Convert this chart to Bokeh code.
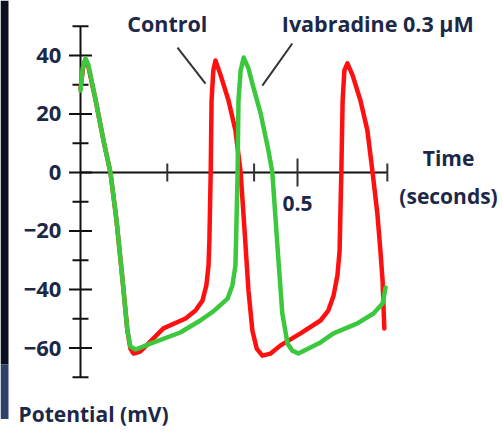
from bokeh.plotting import figure
from bokeh.embed import file_html
from bokeh.resources import INLINE
from bokeh.core.properties import value

# ---- data (time in s, potential in mV) ----
control_t = [0.000, 0.007, 0.0115, 0.018, 0.035, 0.053, 0.069, 0.083, 0.097, 0.108, 0.115, 0.122,
             0.138, 0.191, 0.242, 0.265, 0.281, 0.290, 0.295, 0.297, 0.300, 0.302, 0.306, 0.311,
             0.323, 0.341, 0.357, 0.369, 0.378, 0.387, 0.396, 0.406, 0.419, 0.438, 0.461, 0.507,
             0.553, 0.571, 0.583, 0.592, 0.597, 0.599, 0.601, 0.604, 0.608, 0.615, 0.627, 0.645,
             0.661, 0.673, 0.684, 0.691, 0.696, 0.700]
control_v = [28.7, 36.9, 38.6, 36.2, 24.6, 10.9, 0.0, -16.4, -36.9, -54.0, -60.2, -61.9,
             -61.2, -53.3, -49.9, -47.2, -43.8, -38.6, -31.8, -23.2, 0.0, 24.6, 34.9, 38.3,
             33.2, 24.6, 14.4, 0.0, -19.8, -40.3, -54.0, -60.2, -62.6, -61.9, -59.1, -55.0,
             -50.6, -47.2, -42.1, -35.2, -26.7, -13.0, 0.0, 24.6, 34.9, 37.3, 33.2, 24.6,
             14.4, 0.0, -14.0, -26.7, -36.9, -53.3]

ivab_t = [0.000, 0.005, 0.0115, 0.018, 0.035, 0.053, 0.069, 0.083, 0.097, 0.108, 0.115, 0.127,
          0.161, 0.230, 0.276, 0.306, 0.339, 0.350, 0.357, 0.359, 0.362, 0.364, 0.369, 0.376,
          0.387, 0.396, 0.415, 0.433, 0.442, 0.454, 0.465, 0.477, 0.488, 0.502, 0.553, 0.583,
          0.638, 0.675, 0.696, 0.703]
ivab_v = [28.0, 35.6, 39.0, 36.9, 24.6, 10.9, 0.0, -16.4, -36.9, -54.0, -59.5, -60.5,
          -58.5, -54.7, -50.6, -47.5, -43.1, -38.6, -31.8, -19.8, 0.0, 24.6, 34.9, 39.3,
          35.6, 30.4, 20.2, 7.5, 0.0, -25.6, -48.2, -58.5, -60.9, -61.9, -58.1, -55.0,
          -51.6, -48.2, -44.8, -39.3]

y_major = [-60, -40, -20, 0, 20, 40]
y_labels = ["\u221260", "\u221240", "\u221220", "0", "20", "40"]
y_minor = [-70, -50, -30, -10, 10, 30, 50]
x_ticks = [0.2, 0.4, 0.5, 0.707]
x_tick_half = [3.1, 3.1, 4.8, 3.1]
x_label_value = [0.5]
x_label_text = ["0.5"]
y_axis_span = (-70, 50)
x_axis_span = (0.0, 0.707)

series_names = ["Control", "Ivabradine 0.3 \u00b5M"]

TXT = "#1c2848"
FONT = value("Open Sans")
X0, X1 = -0.18433, 0.97235
Y0, Y1 = -89.57, 58.80

p = figure(width=502, height=434, x_range=(X0, X1), y_range=(Y0, Y1),
           output_backend="svg", toolbar_location=None, min_border=0,
           x_axis_location=None, y_axis_location=None)
p.grid.visible = False
p.outline_line_color = None
p.background_fill_color = "white"

# dark edge strip at the left border (as in the source screenshot)
edge = 8 / 434
p.quad(left=[X0, X0], right=[X0 + edge, X0 + edge], bottom=[-65.6, -84.3], top=[Y1, -65.6],
       fill_color=["#0b1020", "#2e4168"], line_color=None)

# axes
p.segment(x0=[0], y0=[y_axis_span[0]], x1=[0], y1=[y_axis_span[1]], line_color="#111111", line_width=2)
p.segment(x0=[x_axis_span[0]], y0=[0], x1=[x_axis_span[1]], y1=[0], line_color="#111111", line_width=2)
maj_dx = 11.5 / 434
min_dx = 8 / 434
p.segment(x0=[-maj_dx] * len(y_major), y0=y_major, x1=[maj_dx] * len(y_major), y1=y_major,
          line_color="#111111", line_width=2)
p.segment(x0=[-min_dx] * len(y_minor), y0=y_minor, x1=[min_dx] * len(y_minor), y1=y_minor,
          line_color="#111111", line_width=2)
p.segment(x0=x_ticks, y0=[-h for h in x_tick_half], x1=x_ticks, y1=x_tick_half,
          line_color="#333333", line_width=2)

# tick labels
p.text(x=[-0.044] * len(y_major), y=y_major, text=y_labels, text_align="right",
       text_baseline="middle", text_font=FONT, text_font_style="bold",
       text_font_size="22px", text_color=TXT)
p.text(x=x_label_value, y=[-10.6], text=x_label_text, text_align="center",
       text_baseline="alphabetic", text_font=FONT, text_font_style="bold",
       text_font_size="21px", text_color=TXT)
p.text(x=[0.848, 0.848], y=[4.8, -8.2], text=["Time", "(seconds)"], text_align="center",
       text_baseline="alphabetic", text_font=FONT, text_font_style="bold",
       text_font_size="21px", text_color=TXT)
p.text(x=[-0.1429], y=[-82.4], text=["Potential (mV)"], text_align="left",
       text_baseline="alphabetic", text_font=FONT, text_font_style="bold",
       text_font_size="21px", text_color=TXT)

# traces
p.line(control_t, control_v, line_color="#ff1010", line_width=4.5, line_join="round", line_cap="round")
p.line(ivab_t, ivab_v, line_color="#3cc83c", line_width=4.5, line_join="round", line_cap="round")

# annotations
p.segment(x0=[0.2235, 0.488], y0=[42.7, 44.1], x1=[0.288, 0.419], y1=[30.4, 29.7],
          line_color="#333333", line_width=2)
p.text(x=[0.200, 0.685], y=[50.9, 50.9], text=series_names, text_align="center",
       text_baseline="alphabetic", text_font=FONT, text_font_style="bold",
       text_font_size="21.5px", text_color=TXT)

open("out.html", "w").write(file_html(p, INLINE))
